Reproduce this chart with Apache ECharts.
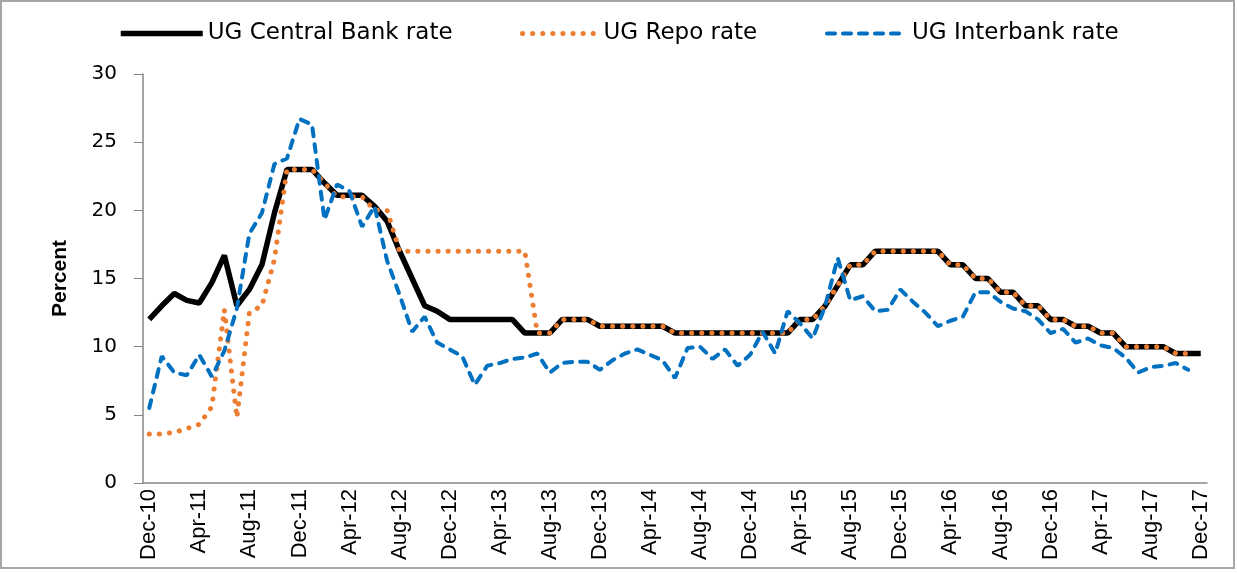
<!DOCTYPE html>
<html>
<head>
<meta charset="utf-8">
<title>UG rates</title>
<script src="https://cdn.jsdelivr.net/npm/echarts@6/dist/echarts.min.js"></script>
<style>
    html, body { margin: 0; padding: 0; background: #fff; }
    #main { width: 1237px; height: 573px; }
</style>
</head>
<body>
<div id="main"></div>
<script>
// months Dec-10 .. Dec-17
var months = [
    'Dec-10',
    'Jan-11', 'Feb-11', 'Mar-11', 'Apr-11', 'May-11', 'Jun-11', 'Jul-11', 'Aug-11', 'Sep-11', 'Oct-11', 'Nov-11', 'Dec-11',
    'Jan-12', 'Feb-12', 'Mar-12', 'Apr-12', 'May-12', 'Jun-12', 'Jul-12', 'Aug-12', 'Sep-12', 'Oct-12', 'Nov-12', 'Dec-12',
    'Jan-13', 'Feb-13', 'Mar-13', 'Apr-13', 'May-13', 'Jun-13', 'Jul-13', 'Aug-13', 'Sep-13', 'Oct-13', 'Nov-13', 'Dec-13',
    'Jan-14', 'Feb-14', 'Mar-14', 'Apr-14', 'May-14', 'Jun-14', 'Jul-14', 'Aug-14', 'Sep-14', 'Oct-14', 'Nov-14', 'Dec-14',
    'Jan-15', 'Feb-15', 'Mar-15', 'Apr-15', 'May-15', 'Jun-15', 'Jul-15', 'Aug-15', 'Sep-15', 'Oct-15', 'Nov-15', 'Dec-15',
    'Jan-16', 'Feb-16', 'Mar-16', 'Apr-16', 'May-16', 'Jun-16', 'Jul-16', 'Aug-16', 'Sep-16', 'Oct-16', 'Nov-16', 'Dec-16',
    'Jan-17', 'Feb-17', 'Mar-17', 'Apr-17', 'May-17', 'Jun-17', 'Jul-17', 'Aug-17', 'Sep-17', 'Oct-17', 'Nov-17', 'Dec-17'
];

// central bank rate
var cbr = [
    12,
    13, 13.9, 13.4, 13.2, 14.7, 16.7, 13.0, 14.2, 16.0, 19.8, 23, 23,
    23, 22, 21.1, 21.1, 21.1, 20.3, 19.2, 17, 15, 13, 12.6, 12,
    12, 12, 12, 12, 12, 11, 11, 11, 12, 12, 12, 11.5,
    11.5, 11.5, 11.5, 11.5, 11.5, 11, 11, 11, 11, 11, 11, 11,
    11, 11, 11, 12, 12, 13, 14.5, 16, 16, 17, 17, 17,
    17, 17, 17, 16, 16, 15, 15, 14, 14, 13, 13, 12,
    12, 11.5, 11.5, 11, 11, 10, 10, 10, 10, 9.5, 9.5, 9.5
];

// repo rate
var repo = [
    3.6,
    3.6, 3.7, 4.0, 4.3, 5.6, 12.7, 4.8, 12.5, 13.0, 16.4, 23, 23,
    23, 22, 21, 21, 21, 20, 20, 17, 17, 17, 17, 17,
    17, 17, 17, 17, 17, 17, 11, 11, 12, 12, 12, 11.5,
    11.5, 11.5, 11.5, 11.5, 11.5, 11, 11, 11, 11, 11, 11, 11,
    11, 11, 11, 12, 12, 13, 14.5, 16, 16, 17, 17, 17,
    17, 17, 17, 16, 16, 15, 15, 14, 14, 13, 13, 12,
    12, 11.5, 11.5, 11, 11, 10, 10, 10, 10, 9.5, 9.5, null
];

// interbank rate
var interbank = [
    5.5,
    9.3, 8.1, 7.9, 9.4, 7.8, 9.7, 12.8, 18.3, 19.8, 23.4, 23.8, 26.7,
    26.3, 19.3, 21.9, 21.4, 18.8, 20.3, 16.3, 13.8, 11.1, 12.2, 10.3, 9.8,
    9.3, 7.2, 8.6, 8.8, 9.1, 9.2, 9.5, 8.1, 8.8, 8.9, 8.9, 8.3,
    9.0, 9.5, 9.8, 9.4, 9.0, 7.7, 9.9, 10.0, 9.1, 9.8, 8.6, 9.4,
    11.1, 9.5, 12.6, 11.7, 10.6, 13.0, 16.5, 13.4, 13.7, 12.6, 12.7, 14.2,
    13.3, 12.5, 11.5, 11.9, 12.2, 14.0, 14.0, 13.3, 12.8, 12.6, 12.0, 11.0,
    11.3, 10.3, 10.6, 10.1, 9.9, 9.2, 8.1, 8.5, 8.6, 8.8, 8.3, null
];

var yTicks = [0, 5, 10, 15, 20, 25, 30];

var seriesNames = ['UG Central Bank rate', 'UG Repo rate', 'UG Interbank rate'];

var cbrStyle = {color: '#000', width: 5.5};
var repoStyle = {color: '#ED7D31', width: 5, type: [0.1, 10], cap: 'round'};
var ibStyle = {color: '#0070C0', width: 4, type: [8, 8], cap: 'round'};

// one legend block per series so each sits where the original puts it
function legendAt(left, w, name, ls) {
    return {
        left: left,
        top: 22,
        padding: 0,
        itemWidth: w,
        itemHeight: 14,
        itemStyle: {opacity: 0},
        textStyle: {
            fontFamily: 'DejaVu Sans',
            fontSize: 23,
            color: '#000'
        },
        data: [{name: name, lineStyle: ls}]
    };
}

var myChart = echarts.init(document.getElementById('main'));
var option = {
    animation: false,
    backgroundColor: '#fff',
    graphic: [{
        type: 'rect',
        shape: {x: 1, y: 1, width: 1233, height: 567},
        style: {fill: 'none', stroke: '#a6a6a6', lineWidth: 2},
        silent: true
    }],
    legend: [
        legendAt(118, 82, seriesNames[0], cbrStyle),
        legendAt(520, 76, seriesNames[1], repoStyle),
        legendAt(825, 80, seriesNames[2], ibStyle)
    ],
    grid: {
        left: 143,
        right: 30,
        top: 74,
        bottom: 90
    },
    xAxis: {
        type: 'category',
        boundaryGap: true,
        data: months,
        axisLine: {lineStyle: {color: '#868686', width: 1.5}},
        axisTick: {interval: 0, length: 5, lineStyle: {color: '#868686'}},
        axisLabel: {
            interval: 3,
            rotate: 90,
            margin: 6,
            fontFamily: "'Liberation Sans Narrow', 'Liberation Sans'",
            fontSize: 22,
            color: '#000'
        },
        splitLine: {show: false}
    },
    yAxis: {
        type: 'value',
        min: yTicks[0],
        max: yTicks[yTicks.length - 1],
        interval: 5,
        name: 'Percent',
        nameLocation: 'middle',
        nameGap: 72,
        nameTextStyle: {
            fontFamily: "'Liberation Sans Narrow', 'Liberation Sans'",
            fontWeight: 'bold',
            fontSize: 21,
            color: '#000'
        },
        axisLine: {show: true, lineStyle: {color: '#868686', width: 1.5}},
        axisTick: {show: true, length: 9, lineStyle: {color: '#868686'}},
        axisLabel: {
            margin: 26,
            fontFamily: 'DejaVu Sans',
            fontSize: 20,
            color: '#000'
        },
        splitLine: {show: false}
    },
    series: [
        {
            name: seriesNames[0],
            type: 'line',
            data: cbr,
            symbol: 'none',
            color: '#000',
            lineStyle: cbrStyle
        },
        {
            name: seriesNames[1],
            type: 'line',
            data: repo,
            symbol: 'none',
            color: '#ED7D31',
            lineStyle: repoStyle
        },
        {
            name: seriesNames[2],
            type: 'line',
            data: interbank,
            symbol: 'none',
            color: '#0070C0',
            lineStyle: ibStyle
        }
    ]
};
myChart.setOption(option);
</script>
</body>
</html>
